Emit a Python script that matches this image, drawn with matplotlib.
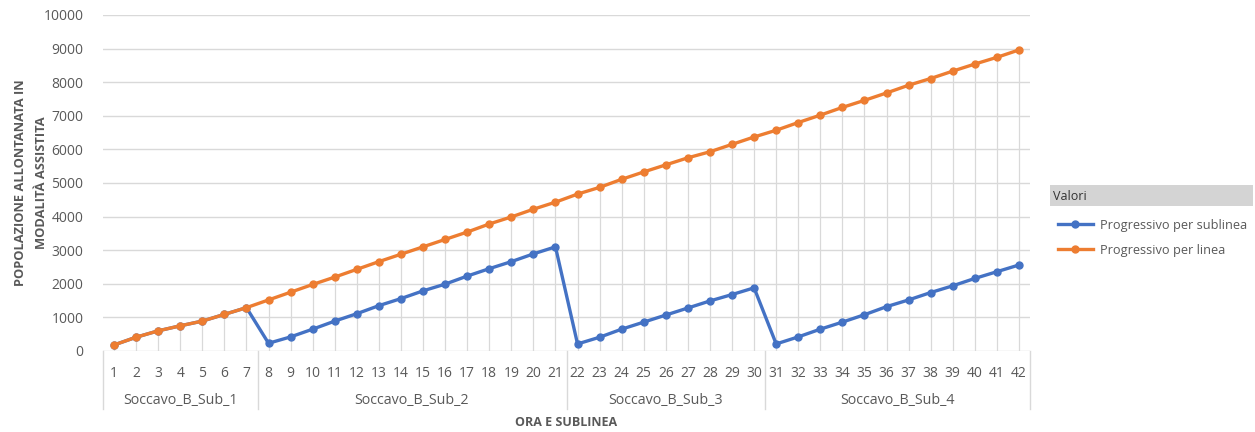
import numpy as np
import matplotlib.pyplot as plt
from matplotlib.patches import Rectangle

# data
ore = list(range(1, 43))
sublinee = ["Soccavo_B_Sub_1", "Soccavo_B_Sub_2", "Soccavo_B_Sub_3", "Soccavo_B_Sub_4"]
ore_per_sublinea = [7, 14, 9, 12]

prog_sublinea = [180, 410, 600, 750, 890, 1090, 1290,
                 230, 420, 650, 890, 1110, 1350, 1560, 1790, 1990, 2230, 2450, 2660, 2890, 3100,
                 210, 410, 650, 860, 1070, 1280, 1490, 1680, 1880,
                 210, 420, 650, 860, 1080, 1320, 1520, 1740, 1940, 2160, 2360, 2560]
prog_linea = [180, 410, 600, 750, 890, 1090, 1290, 1520, 1750, 1980, 2200, 2430, 2660, 2880,
              3100, 3320, 3540, 3780, 3990, 4220, 4430, 4670, 4870, 5110, 5330, 5540, 5750,
              5930, 6150, 6370, 6570, 6800, 7020, 7250, 7460, 7680, 7910, 8110, 8330, 8540,
              8740, 8960]

plt.rcParams['font.family'] = ['Open Sans', 'DejaVu Sans']
grey = '#595959'
blue = '#4472C4'
orange = '#ED7D31'

fig = plt.figure(figsize=(12.55, 4.32), dpi=100)
ax = fig.add_axes([103 / 1255, 81 / 432, 927 / 1255, 336 / 432])

x = np.arange(len(ore))
ax.set_xlim(-0.5, len(ore) - 0.5)
ax.set_ylim(0, 10000)
ax.set_yticks(np.arange(0, 10001, 1000))
ax.tick_params(axis='y', length=0, labelsize=10, labelcolor=grey, pad=14)
ax.grid(axis='y', color='#d9d9d9', lw=1)
ax.set_axisbelow(True)
for s in ax.spines.values():
    s.set_visible(False)

# drop lines
top = np.maximum(prog_sublinea, prog_linea)
ax.vlines(x, 0, top, color='#d9d9d9', lw=0.9, zorder=1)

ax.plot(x, prog_sublinea, color=blue, lw=2.4, marker='o', ms=5, label='Progressivo per sublinea', zorder=3)
ax.plot(x, prog_linea, color=orange, lw=2.4, marker='o', ms=5, label='Progressivo per linea', zorder=4)

# two-level category axis
ax.set_xticks(x)
ax.set_xticklabels([str(o) for o in ore])
ax.tick_params(axis='x', length=0, labelsize=10, labelcolor=grey, pad=11)
box_h = 58 / 336 * 10000
bounds = np.concatenate([[0], np.cumsum(ore_per_sublinea)]) - 0.5
for b in bounds:
    ax.plot([b, b], [0, -box_h], color='#d9d9d9', lw=1, clip_on=False)
for i, name in enumerate(sublinee):
    ax.text((bounds[i] + bounds[i + 1]) / 2, -50 / 336 * 10000, name, ha='center', va='center',
            fontsize=10.3, color=grey)
ax.text(20.5, -72 / 336 * 10000, 'ORA E SUBLINEA', ha='center', va='center',
        fontsize=9, color=grey, fontweight='bold')

ax.set_ylabel('POPOLAZIONE ALLONTANATA IN\nMODALITÀ ASSISTITA', fontsize=9.3, color=grey,
              fontweight='bold', linespacing=1.8)
ax.yaxis.set_label_coords(-55 / 927, 0.5)

# legend with "Valori" header
fig.patches.append(Rectangle((1050 / 1255, 1 - 206 / 432), 203 / 1255, 21 / 432,
                             transform=fig.transFigure, facecolor='#d4d4d4', edgecolor='none'))
fig.text(1053 / 1255, 1 - 196 / 432, 'Valori', fontsize=9, color='#333333', va='center')
leg = fig.legend(loc='upper left', bbox_to_anchor=(1046 / 1255, 1 - 207 / 432), frameon=False,
                 fontsize=9.2, labelcolor=grey, handlelength=2.8, labelspacing=0.95, handletextpad=0.5)

fig.savefig('out.png', dpi=100)
